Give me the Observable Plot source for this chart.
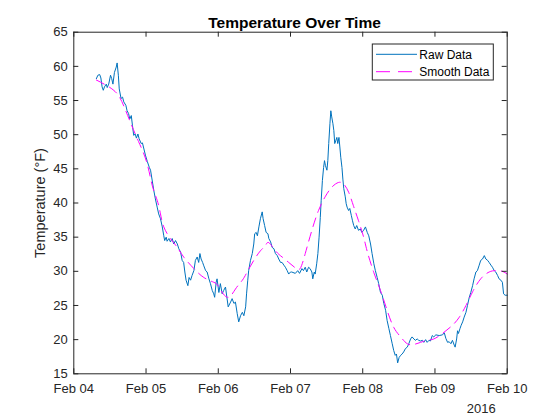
<!DOCTYPE html>
<html><head><meta charset="utf-8">
<script src="https://cdn.jsdelivr.net/npm/d3@7"></script>
<script src="https://cdn.jsdelivr.net/npm/@observablehq/plot@0.6"></script>
<style>
html,body{margin:0;padding:0;background:#fff;}
#chart{width:560px;height:420px;}
</style></head><body><div id="chart"></div>
<script>
// Hours since 2016-02-04 00:00 and temperatures (°F)
const rawHours = [7.5,8.0,8.6,9.0,9.4,9.8,10.2,10.8,11.1,11.6,
12.2,12.6,13.0,13.5,14.1,14.4,14.8,15.1,15.7,16.2,
16.6,17.3,17.7,18.2,18.6,19.1,19.5,19.9,20.4,20.8,
21.3,21.7,22.4,22.8,23.3,23.8,24.4,25.1,25.5,26.6,
27.1,27.7,28.2,28.8,29.4,29.9,30.2,30.7,31.0,31.6,
32.1,32.7,33.2,33.8,34.4,34.9,35.5,36.0,36.5,36.9,
37.3,37.9,38.3,38.8,39.3,39.9,40.4,41.0,41.5,41.9,
42.3,42.8,43.2,43.8,44.3,44.9,45.4,46.0,46.5,46.8,
47.3,47.6,48.2,48.7,49.3,49.8,50.4,51.3,52.1,52.6,
53.2,53.7,54.3,54.8,55.4,56.0,56.5,57.1,57.4,57.8,
58.1,58.7,59.3,59.8,60.1,60.6,61.0,61.5,62.0,62.6,
62.9,63.4,63.9,64.5,64.8,65.4,65.9,66.5,67.0,67.6,
68.1,68.7,69.2,69.8,70.3,70.9,71.4,72.0,72.4,73.6,
74.4,75.0,75.8,76.3,76.9,77.4,78.0,78.5,79.1,79.4,
79.9,80.2,80.7,81.1,81.5,81.9,82.2,82.6,83.0,83.3,
83.6,84.1,84.4,84.7,85.1,85.4,85.7,86.1,86.4,86.7,
87.1,87.4,87.7,88.1,88.4,88.7,89.1,89.4,89.7,90.2,
90.5,90.8,91.3,91.7,92.2,92.6,93.0,93.5,94.0,94.6,
95.2,95.7,96.3,96.9,97.5,98.0,98.6,99.1,99.7,100.2,
100.8,101.3,101.9,102.5,103.0,103.6,104.1,104.7,105.2,105.8,
106.3,106.8,107.2,107.6,108.1,108.6,109.1,109.6,110.2,110.8,
111.3,111.9,112.4,113.0,113.5,114.1,114.6,115.2,115.8,116.3,
116.9,117.4,118.0,118.5,119.1,119.6,120.3,121.4,122.5,123.1,
123.6,124.2,124.7,125.3,125.8,126.4,126.7,127.2,127.5,127.8,
128.3,128.7,129.2,129.7,130.3,130.8,131.4,131.9,132.5,133.0,
133.6,134.1,134.7,135.2,135.8,136.4,136.9,137.5,138.0,138.6,
139.1,139.7,140.2,140.8,141.3,141.9,142.4,142.8,143.3,144.0];
const rawTemps = [58.2,58.7,58.8,58.3,57.0,56.5,57.0,57.4,56.9,57.4,
58.7,58.2,57.4,59.1,59.9,60.5,58.7,56.7,55.3,55.5,
54.8,54.3,53.5,53.1,52.3,52.8,51.3,49.9,50.1,49.5,
50.1,49.4,48.7,48.8,47.9,47.0,46.1,45.2,44.8,41.8,
40.6,39.4,38.4,37.7,36.5,35.2,34.5,35.0,34.4,34.8,
34.3,34.8,34.0,34.5,34.0,33.3,32.8,31.6,31.3,29.9,
28.7,27.9,29.1,28.7,29.4,30.1,31.6,32.1,31.3,32.6,
31.8,31.3,30.8,30.1,29.9,28.9,28.2,27.2,26.7,26.2,
28.4,28.9,26.9,28.2,26.7,27.2,27.7,24.8,25.5,26.0,
25.3,25.5,23.8,22.6,23.5,24.0,23.5,24.8,26.7,28.7,
30.1,31.6,32.6,34.0,35.5,35.7,35.2,36.5,37.7,38.7,
37.7,36.7,35.7,35.5,34.8,34.3,33.5,33.3,32.6,32.3,
31.8,31.3,31.3,30.9,30.6,30.1,29.6,29.9,29.9,29.7,
30.1,29.7,30.4,30.1,30.6,29.9,30.6,30.4,29.9,28.9,
29.9,29.6,31.1,32.6,35.0,37.9,40.4,43.3,45.2,46.2,
45.5,44.8,46.2,48.7,51.6,53.5,52.6,51.6,50.6,48.7,
49.2,49.6,48.7,49.6,48.2,46.7,45.2,43.5,42.1,40.9,
39.9,39.4,38.9,39.2,38.2,37.4,36.7,36.2,36.7,36.0,
36.2,35.7,36.0,36.5,35.7,35.2,34.0,32.6,31.1,30.1,
29.1,28.2,26.9,26.5,25.3,24.3,22.8,21.6,20.6,19.4,
18.4,17.7,17.9,16.6,17.4,17.7,17.9,18.2,18.7,18.9,
19.4,20.1,20.4,20.1,19.9,20.1,19.9,19.8,19.9,19.6,
20.0,19.6,19.9,19.8,20.6,20.4,20.7,20.6,20.7,21.0,
20.2,19.6,19.7,19.4,19.9,19.2,18.9,20.1,21.3,20.9,
21.6,22.1,22.6,23.3,24.0,25.0,26.2,26.9,27.9,28.9,
29.9,30.1,30.9,31.6,31.8,32.3,31.8,31.6,31.3,30.9,
30.6,30.1,29.9,29.4,28.9,28.7,28.4,26.7,26.5,26.5];

const smoothHours = [7.5,10.9,14.4,16.8,19.1,21.5,24.2,26.1,27.7,28.8,
29.9,32.1,34.4,36.5,39.9,43.2,46.5,48.2,51.0,53.7,
56.0,57.6,59.8,62.0,63.7,64.8,67.0,69.2,71.4,73.6,
75.2,76.9,79.1,81.3,83.5,85.7,87.9,89.6,91.3,92.9,
94.6,96.3,97.5,99.7,101.9,104.1,106.3,108.6,110.8,113.0,
115.2,117.4,119.6,122.5,125.8,128.1,130.3,132.5,135.2,138.0,
140.2,142.4,144.0];
const smoothTemps = [58.0,57.2,56.0,54.0,51.5,49.0,46.0,42.5,40.4,38.4,
36.5,34.8,33.5,32.1,30.4,29.1,28.4,27.7,26.2,27.4,
28.7,29.9,31.6,33.0,33.8,34.2,33.0,32.1,31.3,30.5,
30.4,32.6,36.0,38.9,40.9,42.3,43.0,42.8,41.6,39.6,
37.4,35.0,32.9,29.8,27.2,24.3,21.8,20.4,19.4,19.3,
19.6,19.9,20.1,20.9,22.1,23.3,25.0,27.0,28.9,29.9,
30.1,30.0,29.6];

const dayTicks = ["2016-02-04","2016-02-05","2016-02-06","2016-02-07","2016-02-08","2016-02-09","2016-02-10"];
const yTicks = [15,20,25,30,35,40,45,50,55,60,65];
const yDomain = [15,65];
const seriesNames = ["Raw Data","Smooth Data"];
const seriesColors = ["#0072BD","#FF00FF"];
const titleText = "Temperature Over Time";
const yLabelText = "Temperature (\u00B0F)";
const yearText = "2016";

const t0 = Date.UTC(2016,1,4);
const toDate = h => new Date(t0 + h*3600000);
const raw = rawHours.map((h,i)=>({t:toDate(h), v:rawTemps[i]}));
const smooth = smoothHours.map((h,i)=>({t:toDate(h), v:smoothTemps[i]}));
const days = dayTicks.map(s=>new Date(s+"T00:00:00Z"));

const W=560,H=420, mL=73.3, mR=53.3, mT=31.7, mB=46.7;
const innerH = H-mT-mB, innerW = W-mL-mR;
const axisColor = "#262626";
const font = "'Liberation Sans', Arial, Helvetica, sans-serif";
const dash = "9,6";

const plot = Plot.plot({
  width:W, height:H, marginLeft:mL, marginRight:mR, marginTop:mT, marginBottom:mB,
  style:{fontFamily:font, fontSize:"13px", color:axisColor, background:"#fff", overflow:"visible"},
  x:{type:"utc", domain:[days[0], days[days.length-1]]},
  y:{domain:yDomain},
  marks:[
    Plot.line(raw,{x:"t",y:"v",stroke:seriesColors[0],strokeWidth:1}),
    Plot.line(smooth,{x:"t",y:"v",stroke:seriesColors[1],strokeWidth:1,strokeDasharray:dash,curve:"natural"}),
    Plot.frame({stroke:axisColor, strokeWidth:1}),
    Plot.tickX(days,{x:d=>d, insetTop: innerH-5, stroke:axisColor}),
    Plot.tickX(days,{x:d=>d, insetBottom: innerH-5, stroke:axisColor}),
    Plot.tickY(yTicks,{y:d=>d, insetRight: innerW-5, stroke:axisColor}),
    Plot.tickY(yTicks,{y:d=>d, insetLeft: innerW-5, stroke:axisColor}),
    Plot.axisX({ticks:days, tickFormat:d3.utcFormat("%b %d"), tickSize:0, tickPadding:10, label:null, fontSize:13, fill:axisColor}),
    Plot.axisY({ticks:yTicks, tickSize:0, tickPadding:6, label:null, fontSize:13, fill:axisColor}),
    Plot.text([titleText],{frameAnchor:"top", lineAnchor:"middle", dy:-9.5, dx:4, fontWeight:"bold", fontSize:15.5, fill:"#000"}),
    Plot.text([yLabelText],{frameAnchor:"left", lineAnchor:"middle", textAnchor:"middle", rotate:-90, dx:-33, fontSize:14.5, fill:axisColor}),
    Plot.text([yearText],{frameAnchor:"bottom-right", lineAnchor:"middle", textAnchor:"middle", dx:-26, dy:35, fontSize:13, fill:axisColor})
  ]
});
document.getElementById("chart").appendChild(plot);

// Legend (top-right inside axes)
const svg = d3.select(plot);
const lw = 121, lh = 36;
const lx = W - mR - 13.4 - lw, ly = mT + 12.3;
const lg = svg.append("g").attr("font-family", font).attr("font-size", 12).attr("text-anchor","start");
lg.append("rect").attr("x",lx).attr("y",ly).attr("width",lw).attr("height",lh)
  .attr("fill","#fff").attr("stroke",axisColor).attr("stroke-width",1);
seriesNames.forEach((name,i)=>{
  const yy = ly + 10.3 + i*17.4;
  lg.append("line").attr("x1",lx+3.7).attr("x2",lx+44.7).attr("y1",yy).attr("y2",yy)
    .attr("stroke",seriesColors[i]).attr("stroke-width",1)
    .attr("stroke-dasharray", i===1 ? "14,8" : null);
  lg.append("text").attr("x",lx+47).attr("y",yy).attr("dy","0.35em")
    .attr("text-anchor","start").attr("fill","#000").text(name);
});
</script>
</body></html>
